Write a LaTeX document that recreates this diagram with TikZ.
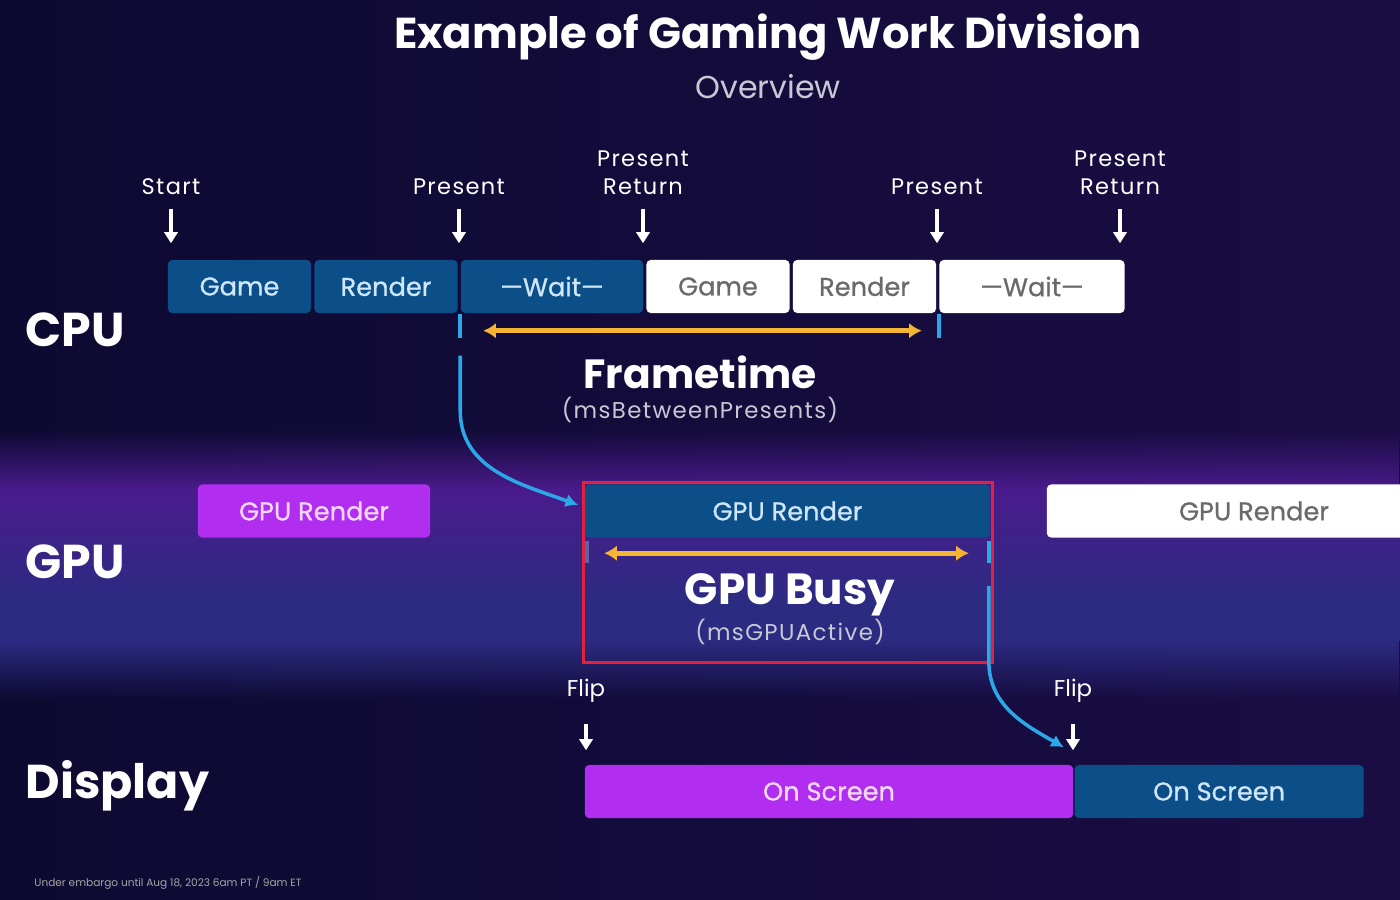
\documentclass[tikz,border=0pt]{standalone}
\usepackage{fontspec}
\setmainfont{Poppins}
\newfontfamily\lblfont[LetterSpace=6]{Poppins}
\newfontfamily\taskfont[FakeBold=0.8,Ligatures=TeX]{Poppins}
\usepackage{tikz}
\usetikzlibrary{arrows.meta,positioning,calc,fadings}

\definecolor{bgleft}{HTML}{0D0A31}
\definecolor{bgright}{HTML}{1A0D44}
\definecolor{bandpurple}{HTML}{4A1B8C}
\definecolor{bandblue}{HTML}{2C2B82}
\definecolor{taskblue}{HTML}{0B4E88}
\definecolor{tasktext}{HTML}{CFE7FB}
\definecolor{idletext}{HTML}{6A6A6A}
\definecolor{gpupurple}{HTML}{B12DF0}
\definecolor{purpletext}{HTML}{F6D8FF}
\definecolor{markyellow}{HTML}{F4B534}
\definecolor{linkcyan}{HTML}{2BA8E8}
\definecolor{framered}{HTML}{E1223C}
\definecolor{subgray}{HTML}{C9C9D6}

\begin{document}
\begin{tikzpicture}[
  x=0.01cm, y=-0.01cm,
  node distance=0.02cm,
  task/.style={
    rectangle,
    rounded corners=1.2pt,
    fill=taskblue,
    text=tasktext,
    minimum height=0.53cm,
    inner sep=0pt,
    font=\taskfont\fontsize{7.3}{9}\selectfont
  },
  idle/.style={task, fill=white, text=idletext},
  gpuprev/.style={task, fill=gpupurple, text=purpletext},
  event/.style={text=white, align=center, font=\lblfont\fontsize{6.4}{8}\selectfont},
  lane/.style={text=white, anchor=west, inner sep=0pt, font=\bfseries\fontsize{13.5}{15}\selectfont},
  metric/.style={text=white, inner sep=0pt, font=\bfseries\fontsize{11.6}{14}\selectfont},
  metricsub/.style={text=subgray, inner sep=0pt, font=\lblfont\fontsize{6.5}{8}\selectfont},
  downarrow/.style={draw=white, line width=0.9pt, -{Triangle[length=3.2pt,width=3.8pt]},
    shorten <=0.02cm, shorten >=0.16cm},
  span/.style={draw=markyellow, line width=1.3pt,
    {Latex[length=3.6pt,width=4.4pt]}-{Latex[length=3.6pt,width=4.4pt]}},
  tickline/.style={draw=linkcyan, line width=1pt},
  link/.style={draw=linkcyan, line width=1pt, -{Latex[length=3.6pt,width=3.8pt]}}
]

% Background and GPU band
\clip (0,0) rectangle (1400,900);
\shade[left color=bgleft, right color=bgright] (0,0) rectangle (1400,900);
\fill[bandpurple, path fading=north] (0,430) rectangle (1400,490);
\shade[top color=bandpurple, bottom color=bandblue] (0,489) rectangle (1400,601);
\fill[bandblue] (0,600) rectangle (1400,641);
\fill[bandblue, path fading=south] (0,640) rectangle (1400,700);

% Title
\node[text=white, font=\bfseries\fontsize{12.3}{14}\selectfont] (title) at (768,37) {Example of Gaming Work Division};
\node[text=subgray, font=\fontsize{9}{11}\selectfont] (subtitle) at (768,87) {Overview};

% Lanes
\node[lane] (cpu) at (25,330) {CPU};
\node[lane] (gpu) at (25,562) {GPU};
\node[lane] (display) at (25,786) {Display};

% CPU work
\node[task, minimum width=1.43cm] (game1) at (239.5,286.5) {Game};
\node[task, minimum width=1.43cm, right=of game1] (render1) {Render};
\node[task, minimum width=1.82cm, right=of render1] (wait1) {—Wait—};
\node[idle, minimum width=1.43cm, right=of wait1] (game2) {Game};
\node[idle, minimum width=1.43cm, right=of game2] (render2) {Render};
\node[idle, minimum width=1.85cm, right=of render2] (wait2) {—Wait—};

% CPU events
\node[event] (evstart) at (171,187) {Start};
\node[event] (evpres1) at (459,187) {Present};
\node[event] (evret1) at (643,173) {Present\\Return};
\node[event] (evpres2) at (937,187) {Present};
\node[event] (evret2) at (1120,173) {Present\\Return};

\draw[downarrow] (evstart.south) -- (evstart.south |- game1.north);
\draw[downarrow] (evpres1.south) -- (evpres1.south |- wait1.north);
\draw[downarrow] (evret1.south) -- (evret1.south |- game2.north);
\draw[downarrow] (evpres2.south) -- (evpres2.south |- wait2.north);
\draw[downarrow] (evret2.south) -- (evret2.south |- wait2.north);

% Frametime
\draw[tickline] (wait1.south west) -- ++(0,24);
\draw[tickline] (wait2.south west) -- ++(0,24);
\draw[span] ($(wait1.south west)+(23,17)$) -- ($(wait2.south west)+(-17,17)$);
\node[metric] (frametime) at (700,372) {Frametime};
\node[metricsub] (frametimesub) at (700,410) {(msBetweenPresents)};

% GPU work
\node[gpuprev, minimum width=2.32cm] (gpu0) at (314,511) {GPU Render};
\node[task, minimum width=4.05cm] (gpu1) at (787.5,511) {GPU Render};
\node[idle, minimum width=4.14cm] (gpu2) at (1254,511) {GPU Render};
\node[draw=framered, line width=0.85pt, minimum width=4.08cm, minimum height=1.79cm,
  inner sep=0pt] (busyframe) at (788,572.5) {};

% GPU Busy
\draw[draw=tasktext!30!bandblue, line width=1pt] ($(gpu1.south west)+(3,3)$) -- ++(0,22);
\draw[tickline] ($(gpu1.south east)+(-2,3)$) -- ++(0,22);
\draw[span] ($(gpu1.south west)+(20,15)$) -- ($(gpu1.south east)+(-22,15)$);
\node[metric, font=\bfseries\fontsize{12.4}{15}\selectfont] (gpubusy) at (790,595) {GPU Busy};
\node[metricsub] (gpubusysub) at (790,632) {(msGPUActive)};

% Display
\node[gpuprev, minimum width=4.88cm] (scr1) at (829,791.5) {On Screen};
\node[task, minimum width=2.89cm, right=0cm of scr1] (scr2) {On Screen};
\node[event, font=\fontsize{6.5}{8}\selectfont] (flip1) at (586,691) {Flip};
\node[event, font=\fontsize{6.5}{8}\selectfont] (flip2) at (1073,691) {Flip};
\draw[downarrow, shorten <=0.09cm, shorten >=0.14cm] (flip1.south) -- (flip1.south |- scr1.north);
\draw[downarrow, shorten <=0.09cm, shorten >=0.14cm] (flip2.south) -- (flip2.south |- scr2.north);

% Links
\draw[link] ($(wait1.south west)+(0,42)$) -- ++(0,55)
  to[out=-90, in=160] ($(gpu1.west)+(-6,-6)$);
\draw[link] ($(gpu1.south east)+(-2,48)$) -- ++(0,75)
  to[out=-90, in=150] ($(scr2.north west)+(-10,-17)$);

% Footer
\node[anchor=west, text=gray!70, font=\fontsize{3}{3}\selectfont] (embargo) at (22,883)
  {Under embargo until Aug 18, 2023 6am PT / 9am ET};

\end{tikzpicture}
\end{document}
